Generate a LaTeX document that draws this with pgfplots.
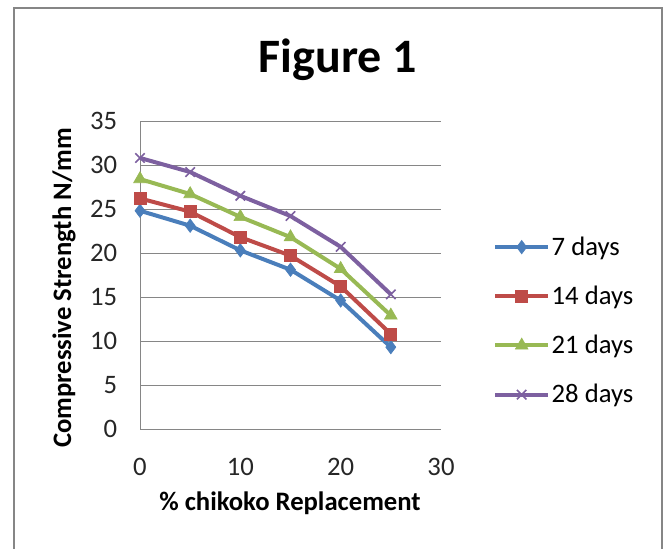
\documentclass[border=0pt]{standalone}
\usepackage{pgfplots}
\pgfplotsset{compat=1.18}
\usepackage{fontspec}
\setmainfont{Carlito}
\definecolor{s1}{HTML}{4A7EBB}
\definecolor{s2}{HTML}{BE4B48}
\definecolor{s3}{HTML}{98B954}
\definecolor{s4}{HTML}{7D60A0}
\definecolor{gridc}{HTML}{868686}
\begin{document}
\begin{tikzpicture}
% 1 px of the reference = 0.75pt; y measured from the bottom (549 px)
\useasboundingbox (0pt,0pt) rectangle (498pt,411.75pt);
\draw[gridc, line width=1.2pt] (10.5pt,405.75pt) rectangle (496.5pt,-15pt);
\node[font=\bfseries\fontsize{36}{40}\selectfont] at (253.5pt,366.75pt) {Figure 1};
\node[font=\bfseries\fontsize{20}{24}\selectfont, rotate=90] at (48pt,195.75pt) {Compressive Strength N/mm};
\node[font=\bfseries\fontsize{20}{24}\selectfont] at (217.5pt,34.5pt) {\% chikoko Replacement};
\begin{axis}[
    at={(105pt,90pt)}, anchor=origin,
    scale only axis,
    width=225.75pt, height=231pt,
    xmin=0, xmax=30, ymin=0, ymax=35,
    xtick={0,10,20,30}, ytick={0,5,...,35},
    axis lines=left,
    axis line style={gridc, -},
    major tick length=0pt,
    ymajorgrids, grid style={gridc, line width=0.6pt},
    tick label style={font=\fontsize{20}{24}\selectfont, text=black!85},
    /pgf/number format/assume math mode=true,
    yticklabel style={inner sep=0pt, xshift=-17pt},
    xticklabel style={inner sep=0pt, yshift=-22pt},
    clip=false,
    legend style={draw=none, fill=none, at={(1.172,0.351)}, anchor=west,
        font=\fontsize{20}{24}\selectfont, row sep=19.5pt,
        inner sep=0pt, nodes={inner sep=1pt}},
    legend cell align=left,
    legend image code/.code={
        \draw[#1, mark repeat=2, mark phase=2] plot coordinates {(0pt,0pt) (20pt,0pt) (40pt,0pt)};},
    every axis plot/.append style={line width=3pt, mark options={solid}},
]
\addplot[s1, mark=diamond*, mark size=5pt, mark options={line width=0.5pt}]
    coordinates {(0,24.8)(5,23.1)(10,20.3)(15,18.1)(20,14.6)(25,9.3)};
\addlegendentry{7 days}
\addplot[s2, mark=square*, mark size=4.5pt, mark options={line width=0.5pt}]
    coordinates {(0,26.2)(5,24.7)(10,21.8)(15,19.7)(20,16.2)(25,10.8)};
\addlegendentry{14 days}
\addplot[s3, mark=triangle*, mark size=5.5pt, mark options={line width=0.5pt}]
    coordinates {(0,28.4)(5,26.7)(10,24.1)(15,21.8)(20,18.2)(25,12.9)};
\addlegendentry{21 days}
\addplot[s4, mark=x, mark size=5pt, mark options={line width=1.2pt}]
    coordinates {(0,30.8)(5,29.2)(10,26.5)(15,24.2)(20,20.7)(25,15.3)};
\addlegendentry{28 days}
\end{axis}
\end{tikzpicture}
\end{document}
